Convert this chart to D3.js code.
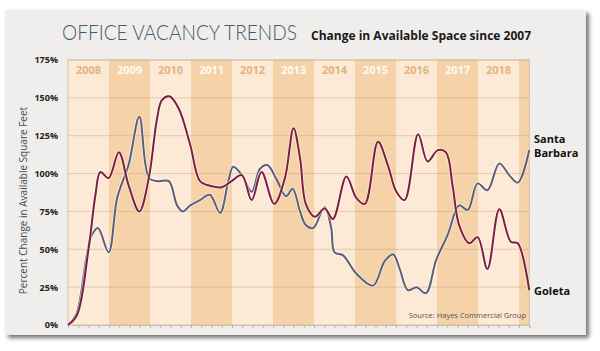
<!DOCTYPE html>
<html>
<head>
<meta charset="utf-8">
<script src="https://cdn.jsdelivr.net/npm/d3@7"></script>
<style>
  body { margin: 0; background: #fff; }
  svg { display: block; }
</style>
</head>
<body>
<div id="chart"></div>
<script>
// data: [year, percent change since 2007]
var years = [2008, 2009, 2010, 2011, 2012, 2013, 2014, 2015, 2016, 2017, 2018];
var yTicks = [0, 25, 50, 75, 100, 125, 150, 175];

var santaBarbara = [
  [2008.0, 0], [2008.2, 7], [2008.45, 45], [2008.56, 58], [2008.73, 64], [2008.99, 48],
  [2009.2, 84], [2009.48, 106], [2009.74, 137.5], [2009.98, 97], [2010.21, 95], [2010.46, 95],
  [2010.66, 79], [2010.8, 75], [2010.98, 79], [2011.22, 82.5], [2011.46, 86], [2011.71, 74],
  [2011.91, 95], [2012.03, 104.5], [2012.24, 99], [2012.48, 88], [2012.68, 103], [2012.86, 105.6],
  [2013.09, 96], [2013.32, 85], [2013.48, 90], [2013.66, 75], [2013.8, 66], [2013.98, 64],
  [2014.26, 78], [2014.42, 64], [2014.5, 48], [2014.71, 46], [2015.03, 34], [2015.44, 26],
  [2015.72, 42], [2015.93, 46.7], [2016.09, 37], [2016.29, 23], [2016.5, 25], [2016.73, 21],
  [2016.98, 43], [2017.26, 59.5], [2017.54, 79], [2017.75, 76], [2017.99, 93.5], [2018.23, 89],
  [2018.52, 106.7], [2018.76, 99], [2018.97, 94], [2019.25, 115.5]
];

var goleta = [
  [2008.0, 0], [2008.22, 6.6], [2008.5, 50], [2008.67, 86], [2008.79, 101], [2008.99, 97],
  [2009.24, 114], [2009.48, 92], [2009.74, 75], [2009.97, 97], [2010.17, 136], [2010.29, 148.5],
  [2010.47, 151], [2010.7, 143], [2010.98, 119], [2011.22, 95], [2011.46, 92], [2011.75, 91],
  [2011.99, 95], [2012.24, 99], [2012.48, 82.5], [2012.72, 101], [2013.03, 80], [2013.29, 97],
  [2013.5, 130], [2013.66, 110], [2013.8, 80], [2014.02, 71.5], [2014.26, 77], [2014.46, 70],
  [2014.79, 98], [2015.03, 84], [2015.24, 80], [2015.56, 121], [2015.8, 105.6], [2016.01, 88],
  [2016.21, 82.5], [2016.54, 126], [2016.77, 108], [2017.02, 115.5], [2017.22, 114], [2017.38, 92],
  [2017.54, 66], [2017.79, 54], [2017.99, 58], [2018.23, 37], [2018.52, 76.5], [2018.8, 55],
  [2018.97, 54], [2019.25, 23]
];

var W = 600, H = 351;
var margin = {top: 60, right: 70.75, bottom: 26, left: 68},
    width = W - margin.left - margin.right,
    height = H - margin.top - margin.bottom;

var svg = d3.select("#chart").append("svg")
    .attr("width", W)
    .attr("height", H);

// drop shadow for the card
var defs = svg.append("defs");
var f = defs.append("filter").attr("id", "shadow")
    .attr("x", "-5%").attr("y", "-5%").attr("width", "115%").attr("height", "120%");
f.append("feGaussianBlur").attr("in", "SourceAlpha").attr("stdDeviation", 2.2);
f.append("feOffset").attr("dx", 3).attr("dy", 3).attr("result", "ob");
f.append("feComponentTransfer").append("feFuncA").attr("type", "linear").attr("slope", 0.55);
var fm = f.append("feMerge");
fm.append("feMergeNode");
fm.append("feMergeNode").attr("in", "SourceGraphic");

svg.append("rect")
    .attr("x", 5).attr("y", 10)
    .attr("width", 581).attr("height", 325)
    .attr("fill", "#efeeec")
    .attr("filter", "url(#shadow)");

// title
svg.append("text")
    .attr("x", 62).attr("y", 40)
    .attr("textLength", 235).attr("lengthAdjust", "spacingAndGlyphs")
    .style("font-family", "Lato, 'Open Sans', sans-serif")
    .style("font-weight", 300)
    .style("font-size", "21px")
    .attr("fill", "#3e5b73")
    .text("OFFICE VACANCY TRENDS");

svg.append("text")
    .attr("x", 311).attr("y", 40)
    .attr("textLength", 220).attr("lengthAdjust", "spacingAndGlyphs")
    .style("font-family", "'Open Sans', sans-serif")
    .style("font-weight", 700)
    .style("font-size", "13px")
    .attr("fill", "#1a1a1a")
    .text("Change in Available Space since 2007");

var g = svg.append("g")
    .attr("transform", "translate(" + margin.left + "," + margin.top + ")");

var x = d3.scaleLinear()
    .domain([2008, 2019.25])
    .range([0, width]);

var y = d3.scaleLinear()
    .domain([0, 175])
    .range([height, 0]);

// year bands, alternating light / dark
var bandYears = years.concat([2019]);
g.selectAll(".band")
  .data(bandYears)
  .enter().append("rect")
    .attr("class", "band")
    .attr("x", d => x(d))
    .attr("y", 0)
    .attr("width", d => x(Math.min(d + 1, 2019.25)) - x(d))
    .attr("height", height)
    .attr("fill", (d, i) => i % 2 ? "#f5d2a7" : "#fcead6");

// gridlines
g.selectAll(".grid")
  .data(yTicks.slice(1))
  .enter().append("line")
    .attr("x1", 0).attr("x2", width)
    .attr("y1", d => y(d)).attr("y2", d => y(d))
    .attr("stroke", "#c9a07a")
    .attr("stroke-opacity", 0.45)
    .attr("stroke-width", 1);

// year labels
g.selectAll(".yr")
  .data(years)
  .enter().append("text")
    .attr("x", d => x(d + 0.5))
    .attr("y", 14)
    .attr("text-anchor", "middle")
    .style("font-family", "'Open Sans', sans-serif")
    .style("font-weight", 700)
    .style("font-size", "11px")
    .attr("fill", (d, i) => i % 2 ? "#fffaf3" : "#e2b37e")
    .text(d => d);

// plot frame
g.append("rect")
    .attr("width", width).attr("height", height)
    .attr("fill", "none")
    .attr("stroke", "#cdb79c")
    .attr("stroke-width", 0.8);

// quarterly ticks along the bottom
var xAxis = d3.axisBottom(x)
    .tickValues(d3.range(2008, 2019.26, 0.25))
    .tickSize(3)
    .tickFormat("");
var xa = g.append("g")
    .attr("transform", "translate(0," + height + ")")
    .call(xAxis);
xa.select(".domain").attr("stroke", "#c8c0b4");
xa.selectAll(".tick line").attr("stroke", "#bdb5aa");

// y axis labels
var yAxis = d3.axisLeft(y)
    .tickValues(yTicks)
    .tickSize(0)
    .tickPadding(10)
    .tickFormat(d => d + "%");
var ya = g.append("g").call(yAxis);
ya.select(".domain").remove();
ya.selectAll("text")
    .style("font-family", "'Open Sans', sans-serif")
    .style("font-weight", 700)
    .style("font-size", "9px")
    .attr("fill", "#222");

svg.append("text")
    .attr("transform", "translate(27," + (margin.top + height / 2 + 8) + ") rotate(-90)")
    .attr("text-anchor", "middle")
    .style("font-family", "'Open Sans', sans-serif")
    .style("font-size", "10px")
    .attr("fill", "#4a4a4a")
    .text("Percent Change in Available Square Feet");

// lines
var line = d3.line()
    .x(d => x(d[0]))
    .y(d => y(d[1]))
    .curve(d3.curveCatmullRom.alpha(0.5));

var series = [
  {name: "santaBarbara", values: santaBarbara, color: "#5b5f77"},
  {name: "goleta", values: goleta, color: "#7e1f3f"}
];

series.forEach(function(s) {
  g.append("path")
      .datum(s.values)
      .attr("d", line)
      .attr("fill", "none")
      .attr("stroke", "#fff")
      .attr("stroke-opacity", 0.6)
      .attr("stroke-width", 3.6);
  g.append("path")
      .datum(s.values)
      .attr("d", line)
      .attr("fill", "none")
      .attr("stroke", s.color)
      .attr("stroke-width", 2);
});

// series labels
var lab = svg.append("g")
    .style("font-family", "'Open Sans', sans-serif")
    .style("font-weight", 700)
    .style("font-size", "11px")
    .attr("fill", "#111");
lab.append("text").attr("x", 534).attr("y", 143).text("Santa");
lab.append("text").attr("x", 534).attr("y", 157).text("Barbara");
lab.append("text").attr("x", 534).attr("y", 295).text("Goleta");

// source
svg.append("text")
    .attr("x", 526).attr("y", 318)
    .attr("text-anchor", "end")
    .style("font-family", "'Open Sans', sans-serif")
    .style("font-size", "7.5px")
    .attr("fill", "#555")
    .text("Source: Hayes Commercial Group");
</script>
</body>
</html>
